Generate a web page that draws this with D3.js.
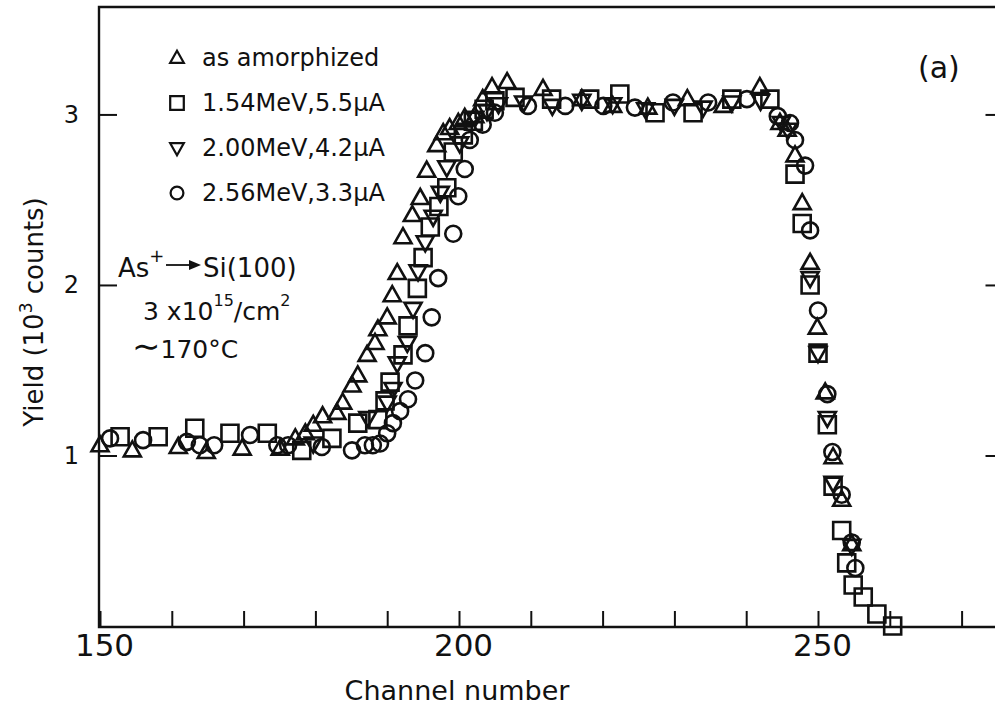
<!DOCTYPE html>
<html>
<head>
<meta charset="utf-8">
<script src="https://cdn.jsdelivr.net/npm/d3@7"></script>
<style>
  body { margin: 0; background: #fff; }
  text { font-family: "DejaVu Sans", sans-serif; fill: #111; }
</style>
</head>
<body>
<div id="chart"></div>
<script>
// svg container
var svgWidth = 995;
var svgHeight = 712;

// data (channel, yield in 10^3 counts)
var triCh = [150, 154.5, 160.9, 164.8, 169.8, 175.1, 177.2, 178.6, 179.7, 181.0, 183.0, 183.8, 185.1, 185.9,
  187.2, 188.3, 188.7, 190.0, 190.7, 191.4, 192.2, 193.5, 194.6, 195.5, 196.9, 197.8, 198.7, 199.9, 200.8,
  202.2, 203.3, 204.6, 206.7, 211.7, 217.1, 221.4, 226.3, 231.8, 236.8, 241.9, 244.7, 245.7, 246.8, 247.8,
  248.9, 249.9, 251.0, 252.1, 253.3, 254.7];
var triY = [1.06, 1.03, 1.05, 1.02, 1.04, 1.04, 1.10, 1.13, 1.18, 1.23, 1.25, 1.31, 1.41, 1.47,
  1.59, 1.66, 1.74, 1.81, 1.94, 2.07, 2.28, 2.41, 2.51, 2.67, 2.82, 2.89, 2.92, 2.95, 2.98,
  2.99, 3.09, 3.16, 3.19, 3.15, 3.09, 3.05, 3.04, 3.09, 3.05, 3.16, 2.95, 2.91, 2.76, 2.48,
  2.13, 1.75, 1.37, 0.99, 0.74, 0.48];

var sqCh = [152.8, 158.1, 163.2, 168.1, 173.3, 178.1, 182.3, 185.9, 188.7, 189.7, 190.4, 192.2, 192.9, 194.2,
  195.0, 196.0, 197.2, 198.3, 199.2, 200.6, 202.0, 203.5, 205.0, 207.8, 212.9, 218.2, 222.4, 227.3, 232.6,
  238.0, 243.3, 246.8, 247.8, 248.9, 250.0, 251.3, 252.1, 253.3, 254.0, 254.9, 256.3, 258.2, 260.4];
var sqY = [1.11, 1.11, 1.16, 1.13, 1.13, 1.03, 1.10, 1.19, 1.21, 1.32, 1.43, 1.59, 1.76, 1.98,
  2.16, 2.34, 2.46, 2.57, 2.78, 2.88, 2.96, 3.03, 3.08, 3.10, 3.09, 3.09, 3.12, 3.01, 3.01,
  3.09, 3.09, 2.65, 2.36, 2.00, 1.60, 1.18, 0.82, 0.56, 0.37, 0.24, 0.17, 0.07, 0.0];

var invCh = [179.7, 187.3, 190.0, 190.8, 191.4, 192.8, 193.6, 194.3, 195.3, 196.4, 197.4, 198.3, 200.1, 202.2,
  203.9, 205.5, 209.0, 213.0, 217.1, 221.4, 226.0, 230.0, 234.0, 238.0, 242.0, 244.9, 245.8, 248.9, 250.0,
  251.3, 252.1, 254.7];
var invY = [1.07, 1.22, 1.31, 1.39, 1.54, 1.66, 1.86, 2.08, 2.25, 2.40, 2.54, 2.69, 2.83, 2.98,
  3.02, 3.06, 3.07, 3.05, 3.08, 3.06, 3.03, 3.05, 3.04, 3.07, 3.08, 2.95, 2.91, 2.04, 1.60,
  1.22, 0.84, 0.47];

var cirCh = [151.4, 156.0, 162.1, 163.9, 165.9, 170.9, 174.7, 176.2, 180.9, 185.1, 186.9, 188.0, 189.0, 190.0,
  190.8, 191.8, 192.9, 193.9, 195.3, 196.2, 197.1, 199.2, 199.9, 200.8, 201.5, 203.3, 205.0, 209.6, 214.8,
  220.1, 224.5, 229.8, 234.7, 240.1, 244.4, 246.1, 246.8, 248.2, 248.9, 250.0, 251.3, 252.0, 253.3, 254.7,
  255.2];
var cirY = [1.10, 1.09, 1.08, 1.06, 1.06, 1.12, 1.06, 1.06, 1.05, 1.03, 1.06, 1.06, 1.07, 1.13,
  1.19, 1.26, 1.33, 1.44, 1.60, 1.81, 2.04, 2.30, 2.52, 2.68, 2.85, 2.94, 3.01, 3.05, 3.05,
  3.05, 3.04, 3.07, 3.07, 3.09, 2.99, 2.95, 2.85, 2.70, 2.32, 1.85, 1.36, 1.02, 0.77, 0.49,
  0.34];

var xTicks = [150, 160, 170, 180, 190, 200, 210, 220, 230, 240, 250, 260, 270];
var xLabels = [150, 200, 250];
var yTicks = [1, 2, 3];

var legendNames = ["as amorphized", "1.54MeV,5.5\u03bcA", "2.00MeV,4.2\u03bcA", "2.56MeV,3.3\u03bcA"];
var legendShapes = ["tri", "square", "inv", "circle"];

// scales
var xScale = d3.scaleLinear().domain([150, 275]).range([100, 997.5]);
var yScale = d3.scaleLinear().domain([0, 3.63]).range([626, 7]);

var svg = d3.select("#chart").append("svg")
  .attr("width", svgWidth)
  .attr("height", svgHeight);

// marker shapes
function markerPath(shape) {
  if (shape === "tri") return "M0,-9L8.5,6L-8.5,6Z";
  if (shape === "inv") return "M0,9L8.5,-6L-8.5,-6Z";
  if (shape === "square") return "M-8.5,-8.5H8.5V8.5H-8.5Z";
  return d3.arc()({innerRadius: 0, outerRadius: 8, startAngle: 0, endAngle: 2 * Math.PI});
}

// frame
var frameL = xScale(150) - 1, frameR = xScale(275), frameT = yScale(3.63), frameB = yScale(0) + 1;
svg.append("path")
  .attr("d", `M${frameR},${frameT}H${frameL}V${frameB}H${frameR}V${frameT}`)
  .attr("fill", "none")
  .attr("stroke", "#111")
  .attr("stroke-width", 2.4);

// bottom axis
var xAxis = d3.axisBottom(xScale)
  .tickValues(xTicks)
  .tickSize(-16)
  .tickPadding(7)
  .tickFormat(d => xLabels.indexOf(d) >= 0 ? d : "");
var xg = svg.append("g")
  .attr("transform", `translate(0, ${frameB})`)
  .call(xAxis);
xg.select(".domain").remove();
xg.selectAll("line").attr("stroke", "#111").attr("stroke-width", 2);
xg.selectAll("text").attr("font-size", 31).attr("dx", 4).style("font-family", "DejaVu Sans").attr("fill", "#111");

// left axis
var yAxis = d3.axisLeft(yScale)
  .tickValues(yTicks)
  .tickSize(-18)
  .tickPadding(20)
  .tickFormat(d3.format("d"));
var yg = svg.append("g")
  .attr("transform", `translate(${frameL}, 0)`)
  .call(yAxis);
yg.select(".domain").remove();
yg.selectAll("line").attr("stroke", "#111").attr("stroke-width", 2);
yg.selectAll("text").attr("font-size", 24).style("font-family", "DejaVu Sans").attr("fill", "#111");

// right axis ticks
var rg = svg.append("g")
  .attr("transform", `translate(${frameR}, 0)`)
  .call(d3.axisRight(yScale).tickValues(yTicks).tickSize(-12).tickFormat(""));
rg.select(".domain").remove();
rg.selectAll("line").attr("stroke", "#111").attr("stroke-width", 2);

// data points
var series = [
  {shape: "tri", ch: triCh, y: triY},
  {shape: "square", ch: sqCh, y: sqY},
  {shape: "inv", ch: invCh, y: invY},
  {shape: "circle", ch: cirCh, y: cirY}
];
series.forEach(function(s) {
  var pts = s.ch.map((c, i) => ({ch: c, y: s.y[i]}));
  svg.append("g").selectAll("path")
    .data(pts)
    .enter()
    .append("path")
    .attr("d", markerPath(s.shape))
    .attr("transform", d => `translate(${xScale(d.ch)}, ${yScale(d.y)})`)
    .attr("fill", "none")
    .attr("stroke", "#111")
    .attr("stroke-width", 2.6);
});

// legend
var legend = svg.append("g");
legendNames.forEach(function(name, i) {
  var ly = 66 + i * 45;
  legend.append("path")
    .attr("d", markerPath(legendShapes[i]))
    .attr("transform", `translate(177, ${ly - 8}) scale(0.8)`)
    .attr("fill", "none")
    .attr("stroke", "#111")
    .attr("stroke-width", 2.8);
  legend.append("text")
    .attr("x", 202)
    .attr("y", ly)
    .attr("font-size", 24)
    .text(name);
});

// panel label
svg.append("text")
  .attr("x", 918)
  .attr("y", 78)
  .attr("font-size", 30)
  .text("(a)");

// annotation
var note = svg.append("g");
var t1 = note.append("text").attr("x", 118).attr("y", 277).attr("font-size", 26);
t1.append("tspan").text("As");
t1.append("tspan").attr("font-size", 18).attr("dy", -15).text("+");
note.append("line")
  .attr("x1", 166).attr("y1", 265).attr("x2", 192).attr("y2", 265)
  .attr("stroke", "#111").attr("stroke-width", 1.8);
note.append("path")
  .attr("d", "M201,265L189,260L189,270Z")
  .attr("fill", "#111");
note.append("text").attr("x", 203).attr("y", 277).attr("font-size", 26).text("Si(100)");

var t2 = note.append("text").attr("x", 143).attr("y", 320).attr("font-size", 25);
t2.append("tspan").text("3 x10");
t2.append("tspan").attr("font-size", 16).attr("dy", -14).text("15");
t2.append("tspan").attr("dy", 14).text("/cm");
t2.append("tspan").attr("font-size", 16).attr("dy", -14).text("2");

var t3 = note.append("text").attr("x", 132).attr("y", 358).attr("font-size", 25);
t3.append("tspan").attr("font-size", 34).text("\u223c");
t3.append("tspan").text("170\u00b0C");

// axis titles
svg.append("text")
  .attr("transform", "translate(43, 312) rotate(-90)")
  .attr("text-anchor", "middle")
  .attr("font-size", 26)
  .call(function(t) {
    t.append("tspan").text("Yield (10");
    t.append("tspan").attr("font-size", 17).attr("dy", -11).text("3");
    t.append("tspan").attr("dy", 11).text(" counts)");
  });

svg.append("text")
  .attr("x", 457)
  .attr("y", 700)
  .attr("text-anchor", "middle")
  .attr("font-size", 27)
  .text("Channel number");
</script>
</body>
</html>
